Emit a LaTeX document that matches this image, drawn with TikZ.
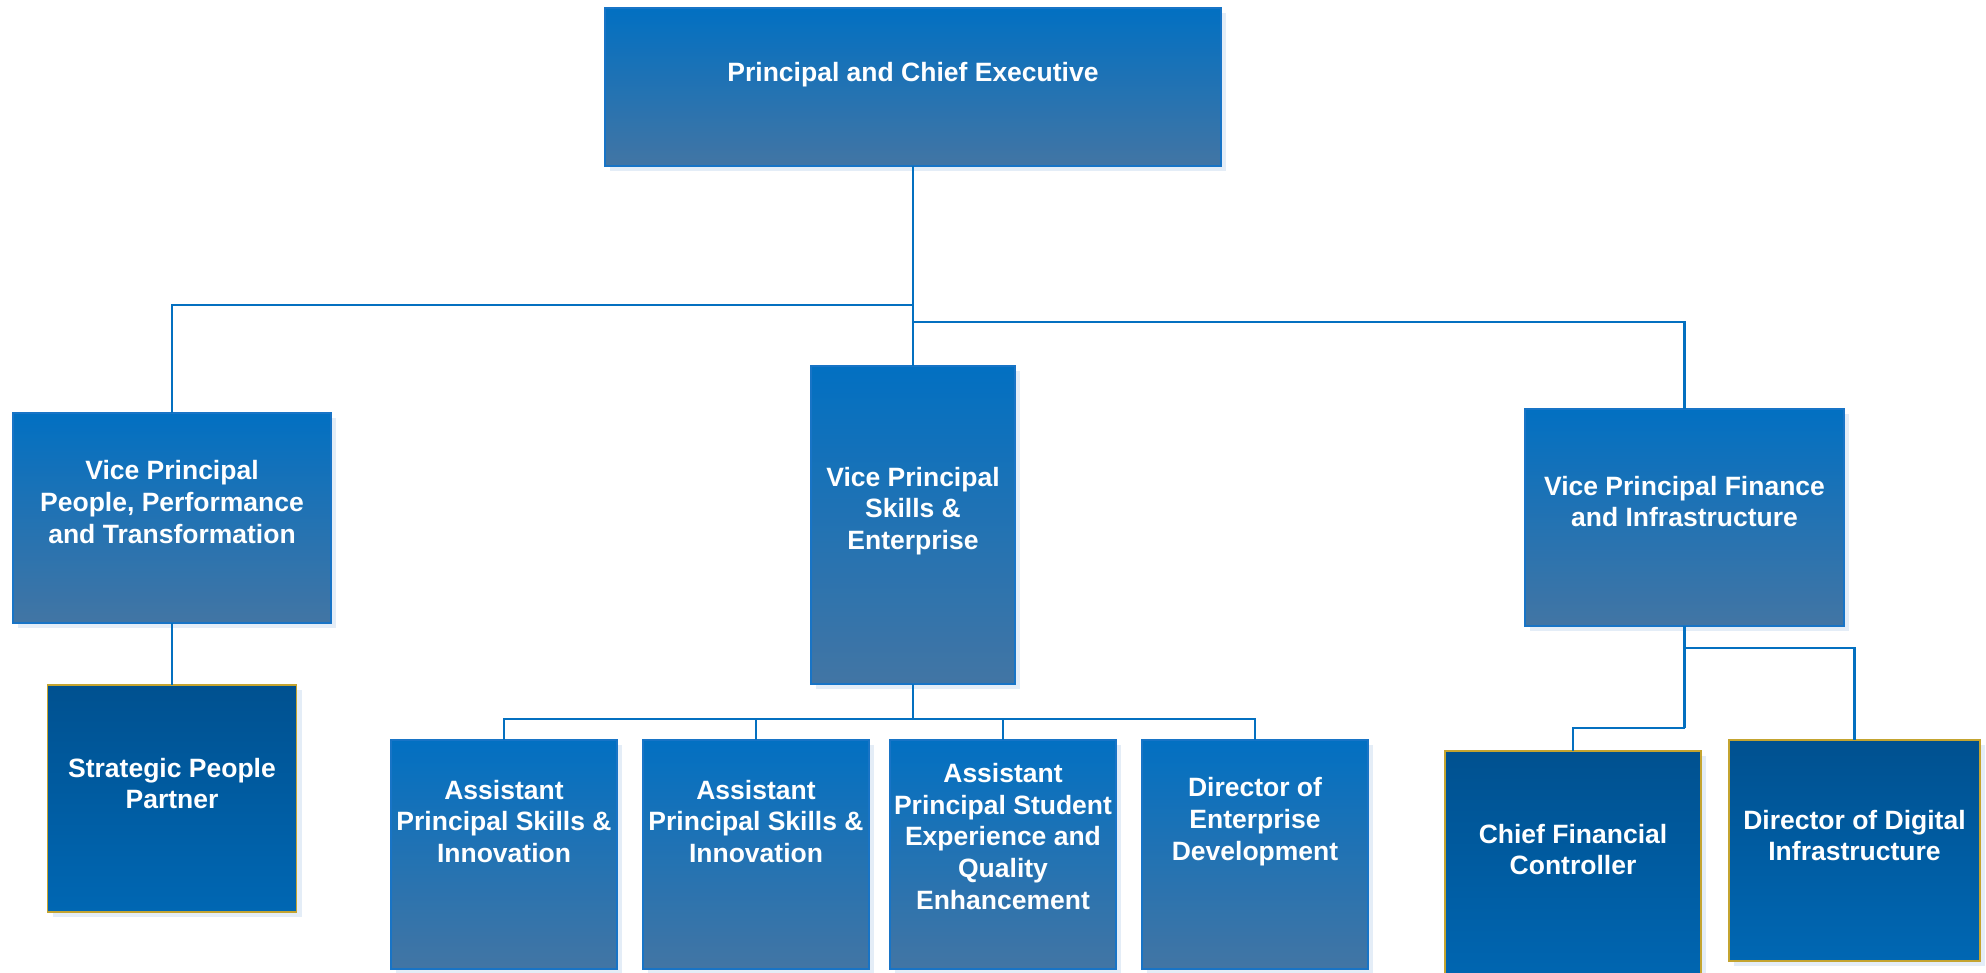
\documentclass[tikz,border=0pt]{standalone}
\usepackage{fontspec}
\setmainfont{Liberation Sans}
\usetikzlibrary{shadows}
\definecolor{lt}{RGB}{2,112,194}
\definecolor{lb}{RGB}{66,117,164}
\definecolor{dt}{RGB}{0,81,144}
\definecolor{db}{RGB}{0,103,179}
\definecolor{lborder}{RGB}{24,116,198}
\definecolor{dborder}{RGB}{196,164,48}
\definecolor{conn}{RGB}{4,112,192}
\definecolor{shadowc}{RGB}{228,237,247}
\tikzset{
  lightbox/.style={rectangle, inner sep=0pt, outer sep=0pt, top color=lt, bottom color=lb, draw=lborder, line width=1.5pt,
    drop shadow={shadow xshift=5pt, shadow yshift=-5pt, fill=shadowc, opacity=1}},
  darkbox/.style={rectangle, inner sep=0pt, outer sep=0pt, top color=dt, bottom color=db, draw=dborder, line width=1.5pt,
    drop shadow={shadow xshift=5pt, shadow yshift=-5pt, fill=shadowc, opacity=1}},
  lbl/.style={text=white, align=center, font=\bfseries\fontsize{26.5pt}{31.7pt}\selectfont, inner sep=0pt},
  link/.style={draw=conn, line width=2.8pt}
}
\begin{document}
\begin{tikzpicture}[x=1pt,y=-1pt]
\useasboundingbox (0,0) rectangle (1986,973);
\coordinate (jL) at (913,305);
\coordinate (jR) at (913,322);
\coordinate (bus) at (913,719);
\coordinate (fA) at (1684.5,648);
\coordinate (fB) at (1684.5,728);
% boxes
\node[lightbox, minimum width=616pt, minimum height=158pt] (pce) at (913,87) {};
\node[lightbox, minimum width=318pt, minimum height=210pt] (vpp) at (172,518) {};
\node[darkbox, minimum width=249pt, minimum height=227pt] (spp) at (172,798.5) {};
\node[lightbox, minimum width=204pt, minimum height=318pt] (vps) at (913,525) {};
\node[lightbox, minimum width=226pt, minimum height=229pt] (ap1) at (504,854.5) {};
\node[lightbox, minimum width=226pt, minimum height=229pt] (ap2) at (756,854.5) {};
\node[lightbox, minimum width=226pt, minimum height=229pt] (ap3) at (1003,854.5) {};
\node[lightbox, minimum width=226pt, minimum height=229pt] (ded) at (1255,854.5) {};
\node[lightbox, minimum width=319pt, minimum height=217pt] (vpf) at (1684.5,517.5) {};
\node[darkbox, minimum width=256pt, minimum height=239pt] (cfc) at (1573,870.5) {};
\node[darkbox, minimum width=251pt, minimum height=221pt] (ddi) at (1854.5,850.5) {};
% connectors
\draw[link] (pce.south) -- (vps.north);
\draw[link] (jL) -| (vpp.north);
\draw[link] (jR) -| (vpf.north);
\draw[link] (vpp.south) -- (spp.north);
\draw[link] (vps.south) -- (bus);
\draw[link] (bus) -| (ap1.north);
\draw[link] (bus) -| (ap2.north);
\draw[link] (bus) -| (ap3.north);
\draw[link] (bus) -| (ded.north);
\draw[link] (vpf.south) -- (fB);
\draw[link] (fA) -| (ddi.north);
\draw[link] (fB) -| (cfc.north);
% labels
\node[lbl] (tpce) at ([yshift=12pt]pce.center) {Principal and Chief Executive};
\node[lbl] (tvpp) at ([yshift=16pt]vpp.center) {Vice Principal\\People, Performance\\and Transformation};
\node[lbl] (tspp) at ([yshift=15pt]spp.center) {Strategic People\\Partner};
\node[lbl] (tvps) at ([yshift=14pt]vps.center) {Vice Principal\\Skills \&\\Enterprise};
\node[lbl] (tap1) at ([yshift=33pt]ap1.center) {Assistant\\Principal Skills \&\\Innovation};
\node[lbl] (tap2) at ([yshift=33pt]ap2.center) {Assistant\\Principal Skills \&\\Innovation};
\node[lbl] (tap3) at ([yshift=18pt]ap3.center) {Assistant\\Principal Student\\Experience and\\Quality\\Enhancement};
\node[lbl] (tded) at ([yshift=33pt]ded.center) {Director of\\Enterprise\\Development};
\node[lbl] (tvpf) at ([yshift=16pt]vpf.center) {Vice Principal Finance\\and Infrastructure};
\node[lbl] (tcfc) at ([yshift=21pt]cfc.center) {Chief Financial\\Controller};
\node[lbl] (tddi) at ([yshift=15pt]ddi.center) {Director of Digital\\Infrastructure};
\end{tikzpicture}
\end{document}
